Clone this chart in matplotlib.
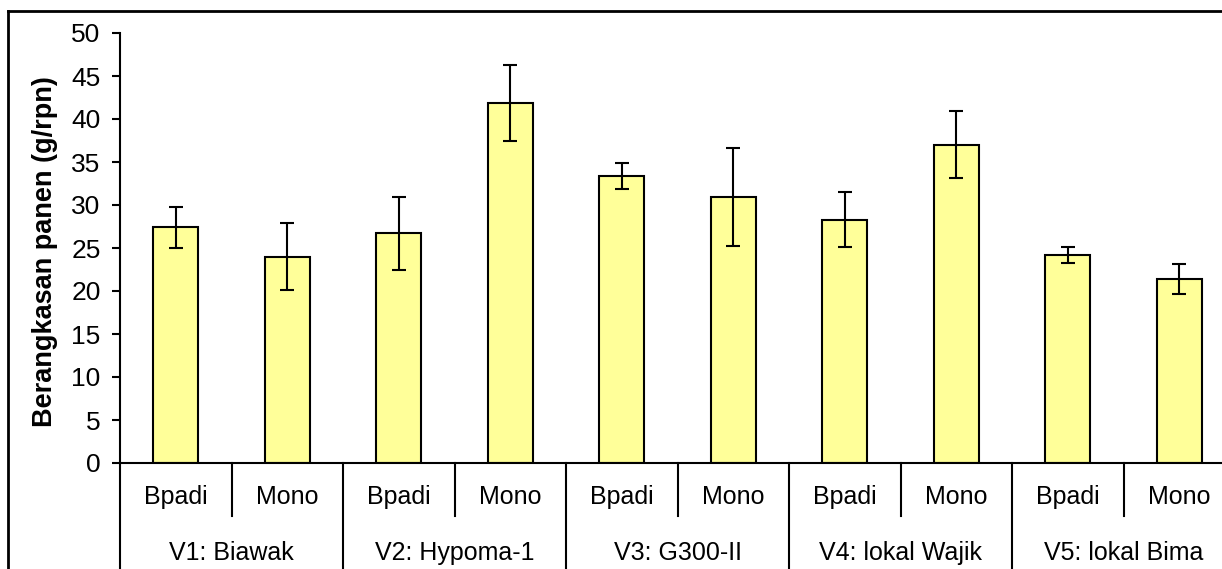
import matplotlib

matplotlib.use("Agg")
import matplotlib.pyplot as plt  # noqa: E402
from matplotlib.transforms import blended_transform_factory  # noqa: E402

plt.rcParams["font.family"] = ["Liberation Sans", "DejaVu Sans"]

# data
varieties = ["V1: Biawak", "V2: Hypoma-1", "V3: G300-II", "V4: lokal Wajik", "V5: lokal Bima"]
systems = ["Bpadi", "Mono"]
means = [27.4, 24.0, 26.7, 41.9, 33.4, 30.9, 28.3, 37.0, 24.2, 21.4]
errors = [2.4, 3.9, 4.2, 4.4, 1.5, 5.7, 3.2, 3.9, 0.95, 1.7]
y_ticks = list(range(0, 51, 5))

W, H = 1222, 569
fig = plt.figure(figsize=(W / 100, H / 100), dpi=100)
# axes spans x 120..1235 px (right side cropped), y 33..463 px
ax = fig.add_axes([120 / W, (H - 463) / H, 1115 / W, 430 / H])

x = list(range(len(means)))
ax.bar(x, means, width=0.4, color="#FFFF99", edgecolor="black", linewidth=1.5, zorder=2)
ax.errorbar(x, means, yerr=errors, fmt="none", ecolor="black", elinewidth=1.5,
            capsize=5, capthick=1.5, zorder=3)

ax.set_xlim(-0.5, len(means) - 0.5)
ax.set_ylim(0, 50)
ax.set_yticks(y_ticks)
ax.tick_params(axis="y", direction="out", length=6, width=1.5, labelsize=19, pad=8)
ax.set_xticks([])
for s in ("top", "right"):
    ax.spines[s].set_visible(False)
ax.spines["left"].set_linewidth(1.5)
ax.spines["bottom"].set_linewidth(1.5)

# multi-level category axis
tr = blended_transform_factory(ax.transData, ax.transAxes)
y_short = (463 - 516) / 430
y_long = (463 - 620) / 430
y_row1 = (463 - 497) / 430
y_row2 = (463 - 553) / 430
ax.plot([-0.5, -0.5], [0, y_long], transform=tr, color="black", lw=1.5, clip_on=False)
for i, v in enumerate(varieties):
    for j, s in enumerate(systems):
        k = 2 * i + j
        ax.text(k, y_row1, s, transform=tr, ha="center", va="center", fontsize=18)
    ax.plot([2 * i + 0.5] * 2, [0, y_short], transform=tr, color="black", lw=1.5, clip_on=False)
    ax.plot([2 * i + 1.5] * 2, [0, y_long], transform=tr, color="black", lw=1.5, clip_on=False)
    ax.text(2 * i + 0.5, y_row2, v, transform=tr, ha="center", va="center", fontsize=18)

fig.text(45 / W, (H - 252) / H, "Berangkasan panen (g/rpn)", rotation=90,
         ha="center", va="center", fontsize=19.5, fontweight="bold")

# outer chart-area border (cropped on right and bottom)
fx = 8 / W
fy = (H - 11) / H
fig.add_artist(plt.Line2D([fx, 1.0], [fy, fy], transform=fig.transFigure, color="black", lw=2))
fig.add_artist(plt.Line2D([fx, fx], [fy, 0.0], transform=fig.transFigure, color="black", lw=2))

fig.savefig("out.png", dpi=100)
